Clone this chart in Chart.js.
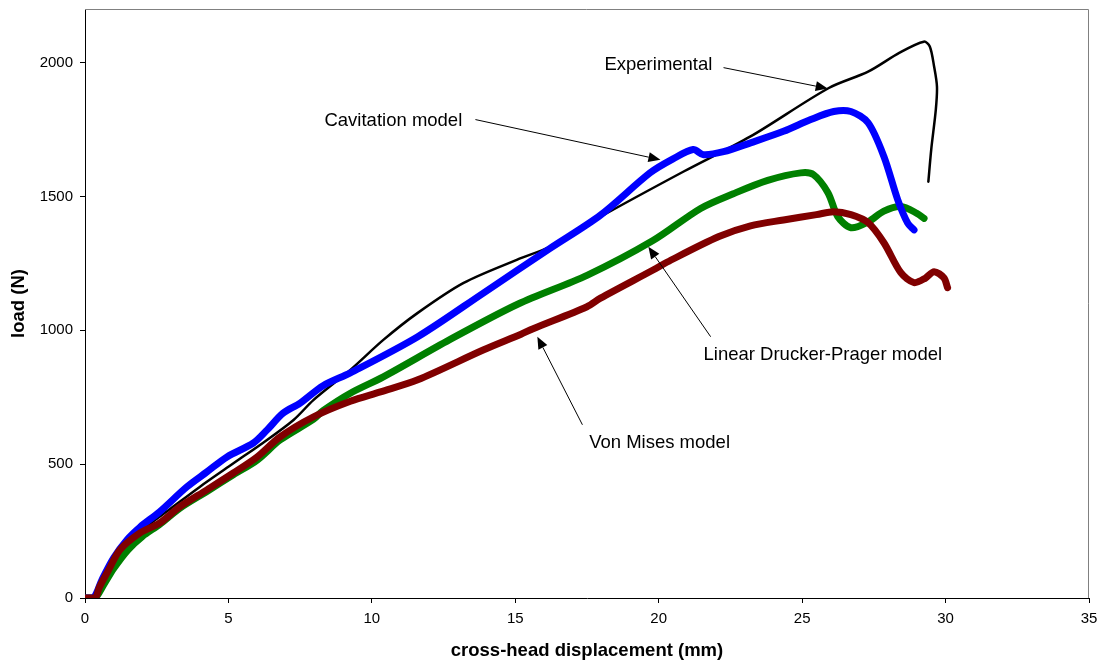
<!DOCTYPE html>
<html>
<head>
<meta charset="utf-8">
<script src="https://cdn.jsdelivr.net/npm/chart.js@4/dist/chart.umd.min.js"></script>
<style>
  html, body { margin: 0; padding: 0; background: #fff; }
  #wrap { width: 1100px; height: 662px; }
</style>
</head>
<body>
<div id="wrap"><canvas id="c" width="1100" height="662"></canvas></div>
<script>
// ---- data (cross-head displacement in mm, load in N) ----
const expX = [0, 0.3, 0.6, 1.0, 1.5, 2.0, 3.0, 4.0, 5.0, 5.4, 6.2, 7.27, 7.97, 9.25, 10.4, 11.6, 13.2, 15.07, 16.2, 17.97, 20.87, 23.2, 25.93, 27.3, 28.4, 29.24, 29.45, 29.6, 29.7, 29.66, 29.5, 29.4];
const expY = [0, 0, 50, 130, 200, 255, 335, 415, 490, 520, 579, 665, 740, 852, 964, 1065, 1177, 1264, 1312, 1424, 1593, 1724, 1905, 1966, 2037, 2078, 2060, 1985, 1910, 1824, 1675, 1555];

const cavX = [0, 0.3, 0.6, 1.0, 1.46, 1.92, 2.6, 3.55, 4.25, 4.95, 5.87, 6.35, 6.9, 7.5, 8.3, 9.25, 11.6, 13.9, 16.2, 17.97, 19.7, 20.5, 21.2, 21.56, 22.26, 23.2, 24.35, 25.3, 26.1, 26.7, 27.3, 27.85, 28.33, 28.68, 28.9];
const cavY = [0, 0, 70, 150, 217, 265, 322, 415, 471, 527, 579, 628, 690, 728, 793, 841, 976, 1140, 1305, 1430, 1588, 1640, 1675, 1656, 1667, 1700, 1743, 1787, 1817, 1817, 1775, 1649, 1488, 1400, 1375];

const dpX = [0, 0.35, 0.6, 1.0, 1.5, 2.0, 2.6, 3.3, 4.25, 5.17, 6.0, 6.8, 7.97, 8.3, 9.25, 10.4, 12.7, 15.1, 17.5, 19.8, 21.46, 22.6, 23.8, 24.95, 25.4, 25.9, 26.24, 26.7, 27.3, 27.85, 28.44, 29.0, 29.25];
const dpY = [0, 0, 40, 110, 180, 230, 275, 335, 398, 460, 515, 590, 668, 700, 765, 826, 964, 1098, 1205, 1335, 1455, 1510, 1560, 1588, 1581, 1514, 1425, 1383, 1405, 1445, 1462, 1437, 1418];

const vmX = [0, 0.35, 0.5, 0.8, 1.22, 1.92, 2.6, 3.3, 4.25, 5.17, 6.0, 6.8, 7.97, 9.25, 10.3, 11.6, 13.9, 15.2, 15.6, 17.5, 17.97, 19.82, 20.3, 22.1, 23.2, 24.35, 25.5, 26.1, 26.7, 27.3, 27.85, 28.44, 28.9, 29.3, 29.6, 29.94, 30.07];
const vmY = [0, 0, 40, 100, 180, 243, 280, 340, 404, 467, 527, 602, 677, 735, 770, 815, 927, 985, 1005, 1088, 1120, 1226, 1255, 1350, 1390, 1412, 1432, 1443, 1432, 1402, 1327, 1215, 1178, 1195, 1219, 1196, 1159];

const seriesNames = ["Experimental", "Cavitation model", "Linear Drucker-Prager model", "Von Mises model"];

const xTicks = [0, 5, 10, 15, 20, 25, 30, 35];
const yTicks = [0, 500, 1000, 1500, 2000];

// annotation labels and arrows, in data units
const noteText = ["Experimental", "Cavitation model", "Linear Drucker-Prager model", "Von Mises model"];
const noteAt = [[19.99, 1992], [10.75, 1783], [25.72, 908], [20.03, 579]];
const arrowFrom = [[22.26, 1981], [13.61, 1787], [21.81, 976], [17.34, 647]];
const arrowTo = [[25.89, 1903], [20.06, 1637], [19.64, 1312], [15.77, 976]];

const toPts = (xs, ys) => xs.map((x, i) => ({ x: x, y: ys[i] }));

const notesPlugin = {
  id: 'notes',
  beforeDatasetsDraw(chart) {
    const { ctx, chartArea: a } = chart;
    ctx.save();
    ctx.strokeStyle = '#808080';
    ctx.lineWidth = 1;
    ctx.beginPath();
    ctx.moveTo(a.left, a.top + 0.5);
    ctx.lineTo(a.right - 0.5, a.top + 0.5);
    ctx.lineTo(a.right - 0.5, a.bottom);
    ctx.stroke();
    ctx.restore();
  },
  afterDatasetsDraw(chart) {
    const { ctx, scales } = chart;
    const sx = scales.x, sy = scales.y;
    ctx.save();
    ctx.fillStyle = '#000';
    ctx.font = '18.5px "Liberation Sans", Arial, sans-serif';
    ctx.textAlign = 'center';
    ctx.textBaseline = 'middle';
    noteText.forEach((t, i) => {
      ctx.fillText(t, sx.getPixelForValue(noteAt[i][0]), sy.getPixelForValue(noteAt[i][1]));
    });
    ctx.strokeStyle = '#000';
    ctx.lineWidth = 1;
    arrowFrom.forEach((f, i) => {
      const x1 = sx.getPixelForValue(f[0]), y1 = sy.getPixelForValue(f[1]);
      const x2 = sx.getPixelForValue(arrowTo[i][0]), y2 = sy.getPixelForValue(arrowTo[i][1]);
      const ang = Math.atan2(y2 - y1, x2 - x1);
      const L = 12, W = 5;
      const bx = x2 - L * Math.cos(ang), by = y2 - L * Math.sin(ang);
      ctx.beginPath();
      ctx.moveTo(x1, y1);
      ctx.lineTo(bx, by);
      ctx.stroke();
      ctx.beginPath();
      ctx.moveTo(x2, y2);
      ctx.lineTo(bx + W * Math.sin(ang), by - W * Math.cos(ang));
      ctx.lineTo(bx - W * Math.sin(ang), by + W * Math.cos(ang));
      ctx.closePath();
      ctx.fill();
    });
    ctx.restore();
  }
};

const tickFont = { family: '"Liberation Sans", Arial, sans-serif', size: 15 };
const titleFont = { family: '"Liberation Sans", Arial, sans-serif', size: 18.5, weight: 'bold' };

new Chart(document.getElementById('c'), {
  type: 'line',
  data: {
    datasets: [
      { label: seriesNames[0], data: toPts(expX, expY), borderColor: '#000000', borderWidth: 2.5, order: 3 },
      { label: seriesNames[2], data: toPts(dpX, dpY), borderColor: '#008000', borderWidth: 7, order: 2 },
      { label: seriesNames[1], data: toPts(cavX, cavY), borderColor: '#0000FF', borderWidth: 7, order: 1 },
      { label: seriesNames[3], data: toPts(vmX, vmY), borderColor: '#800000', borderWidth: 7, order: 0 }
    ].map(d => Object.assign(d, {
      pointRadius: 0, fill: false, tension: 0.3,
      borderCapStyle: 'round', borderJoinStyle: 'round'
    }))
  },
  options: {
    responsive: false,
    animation: false,
    events: [],
    layout: { padding: { top: 9, right: 11, left: 0, bottom: 0 } },
    plugins: { legend: { display: false }, tooltip: { enabled: false } },
    scales: {
      x: {
        type: 'linear', min: xTicks[0], max: xTicks[xTicks.length - 1],
        afterBuildTicks: s => { s.ticks = xTicks.map(v => ({ value: v })); },
        afterFit: s => { s.height = 64; s.paddingLeft = 0; s.paddingRight = 0; },
        grid: { drawOnChartArea: false, drawTicks: true, tickLength: 5, color: '#000' },
        border: { display: true, color: '#000', width: 1 },
        ticks: { font: tickFont, color: '#000', padding: 7, maxRotation: 0, callback: v => String(v) },
        title: { display: true, text: 'cross-head displacement (mm)', font: titleFont, color: '#000', padding: { top: 0, bottom: 0 } }
      },
      y: {
        type: 'linear', min: 0, max: 2200,
        afterBuildTicks: s => { s.ticks = yTicks.map(v => ({ value: v })); },
        afterFit: s => { s.width = 85; s.paddingTop = 0; s.paddingBottom = 0; },
        grid: { drawOnChartArea: false, drawTicks: true, tickLength: 5, color: '#000' },
        border: { display: true, color: '#000', width: 1 },
        ticks: { font: tickFont, color: '#000', padding: 7, callback: v => String(v) },
        title: { display: true, text: 'load (N)', font: titleFont, color: '#000', padding: { top: 8, bottom: 2 } }
      }
    }
  },
  plugins: [notesPlugin]
});
</script>
</body>
</html>
